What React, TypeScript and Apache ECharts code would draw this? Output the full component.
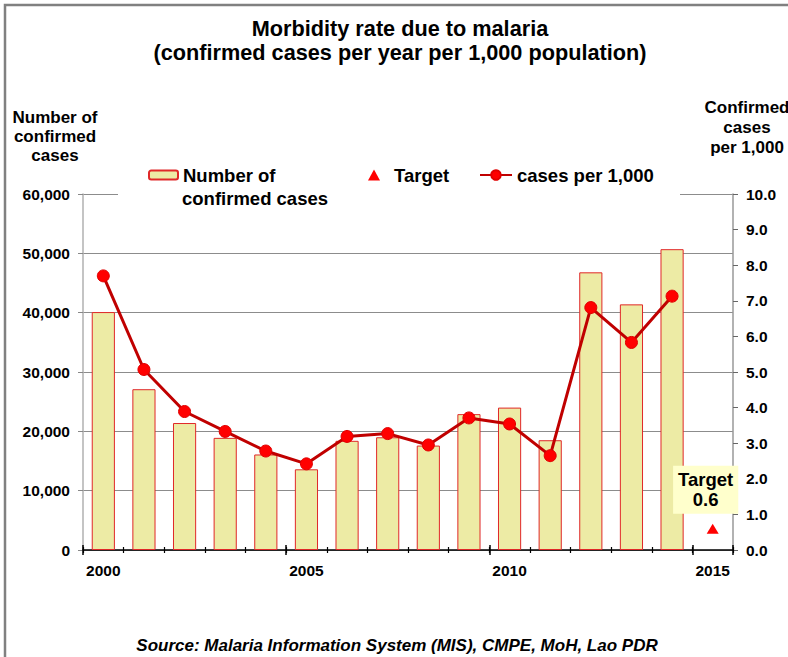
import React, { useEffect, useRef } from "react";
import * as echarts from "echarts";

const years = ["2000","2001","2002","2003","2004","2005","2006","2007","2008","2009","2010","2011","2012","2013","2014","2015"];
const confirmedCases = [40100, 27100, 21400, 18900, 16100, 13600, 18400, 19000, 17600, 22900, 24000, 18500, 46800, 41400, 50700, null];
const casesPer1000 = [7.70, 5.07, 3.89, 3.33, 2.78, 2.42, 3.19, 3.27, 2.95, 3.71, 3.54, 2.65, 6.81, 5.83, 7.13, null];
const target = [null, null, null, null, null, null, null, null, null, null, null, null, null, null, null, 0.6];

const leftTicks = { min: 0, max: 60000, interval: 10000 };
const rightTicks = { min: 0, max: 10, interval: 1 };

const FONT = "'Liberation Sans', Arial, sans-serif";

export default function App() {
  const ref = useRef<HTMLDivElement>(null);
  useEffect(() => {
    if (!ref.current) return;
    const chart = echarts.init(ref.current, null, { renderer: "svg" });
    const tickLabel = { fontFamily: FONT, fontSize: 15.5, fontWeight: "bold", color: "#000" };
    const xBase = {
      type: "category",
      data: years,
      position: "bottom",
      boundaryGap: true,
      splitLine: { show: false },
    };
    chart.setOption({
      animation: false,
      backgroundColor: "#fff",
      grid: { left: 83, right: 55, top: 194, bottom: 107, containLabel: false },
      graphic: [
        { type: "rect", z: 0, shape: { x: 5, y: 5, width: 900, height: 900 }, style: { fill: "none", stroke: "#808080", lineWidth: 2.5 } },
        { type: "rect", z: 5, shape: { x: 118, y: 160, width: 562, height: 48 }, style: { fill: "#fff" } },
        { type: "text", z: 6, x: 400, y: 16, style: { text: "Morbidity rate due to malaria\n(confirmed cases per year per 1,000 population)", fontFamily: FONT, fontSize: 21.7, fontWeight: "bold", lineHeight: 24, align: "center", verticalAlign: "top", fill: "#000" } },
        { type: "text", z: 6, x: 55, y: 108, style: { text: "Number of\nconfirmed\ncases", fontFamily: FONT, fontSize: 17, fontWeight: "bold", lineHeight: 19, align: "center", verticalAlign: "top", fill: "#000" } },
        { type: "text", z: 6, x: 747, y: 97, style: { text: "Confirmed\ncases\nper 1,000", fontFamily: FONT, fontSize: 17, fontWeight: "bold", lineHeight: 20, align: "center", verticalAlign: "top", fill: "#000" } },
        { type: "text", z: 11, x: 182, y: 198, style: { text: "confirmed cases", fontFamily: FONT, fontSize: 18.5, fontWeight: "bold", align: "left", verticalAlign: "middle", fill: "#000" } },
        { type: "text", z: 6, x: 397, y: 645, style: { text: "Source: Malaria Information System (MIS), CMPE, MoH, Lao PDR", fontFamily: FONT, fontSize: 17, fontWeight: "bold", fontStyle: "italic", align: "center", verticalAlign: "middle", fill: "#000" } },
      ],
      legend: [
        { z: 10, left: 148, top: 165, padding: 0, data: ["Number of confirmed cases"], itemWidth: 29, itemHeight: 9, formatter: () => "Number of", textStyle: { fontFamily: FONT, fontSize: 18.5, fontWeight: "bold", color: "#000", lineHeight: 20 }, selectedMode: false },
        { z: 10, left: 368, top: 165, padding: 0, data: ["Target"], itemWidth: 12, itemHeight: 11, textStyle: { fontFamily: FONT, fontSize: 18.5, fontWeight: "bold", color: "#000", lineHeight: 20, padding: [0, 0, 0, 9] }, selectedMode: false },
        { z: 10, left: 479, top: 165, padding: 0, data: ["cases per 1,000"], itemWidth: 32, itemHeight: 12, textStyle: { fontFamily: FONT, fontSize: 18.5, fontWeight: "bold", color: "#000", lineHeight: 20 }, selectedMode: false },
      ],
      xAxis: [
        { ...xBase, axisLine: { show: true, lineStyle: { color: "#000", width: 1.5 } }, axisTick: { show: true, interval: 0, length: 3, inside: false, lineStyle: { color: "#000", width: 1.2 } }, axisLabel: { ...tickLabel, interval: 4, margin: 12 } },
        { ...xBase, axisLine: { show: false }, axisTick: { show: true, interval: 0, length: 3, inside: true, lineStyle: { color: "#000", width: 1.2 } }, axisLabel: { show: false } },
        { ...xBase, axisLine: { show: false }, axisTick: { show: true, interval: 4, length: 5, inside: false, lineStyle: { color: "#000", width: 1.5 } }, axisLabel: { show: false } },
        { ...xBase, axisLine: { show: false }, axisTick: { show: true, interval: 4, length: 5, inside: true, lineStyle: { color: "#000", width: 1.5 } }, axisLabel: { show: false } },
      ],
      yAxis: [
        {
          type: "value", position: "left", ...leftTicks,
          axisLine: { show: true, lineStyle: { color: "#b0b0b0", width: 1.5 } },
          axisTick: { show: true, length: 5, lineStyle: { color: "#888" } },
          splitLine: { show: true, lineStyle: { color: "#8c8c8c", width: 1 } },
          axisLabel: { ...tickLabel, margin: 13, formatter: (v: number) => v.toLocaleString("en-US") },
        },
        {
          type: "value", position: "right", ...rightTicks,
          axisLine: { show: true, lineStyle: { color: "#999", width: 1.5 } },
          axisTick: { show: true, length: 5, lineStyle: { color: "#666" } },
          splitLine: { show: false },
          axisLabel: { ...tickLabel, margin: 13, formatter: (v: number) => v.toFixed(1) },
        },
      ],
      series: [
        {
          name: "Number of confirmed cases", type: "bar", xAxisIndex: 0, yAxisIndex: 0,
          data: confirmedCases, barWidth: "57%",
          itemStyle: { color: "#EDEBA5", borderColor: "#E02828", borderWidth: 1 },
        },
        {
          name: "cases per 1,000", type: "line", xAxisIndex: 0, yAxisIndex: 1,
          data: casesPer1000, symbol: "circle", symbolSize: 12,
          lineStyle: { color: "#C00000", width: 3 },
          itemStyle: { color: "#FF0000", borderColor: "#E00000", borderWidth: 1, opacity: 1 },
          z: 3,
        },
        {
          name: "Target", type: "scatter", xAxisIndex: 0, yAxisIndex: 1,
          data: target, symbol: "triangle", symbolSize: [12, 10],
          itemStyle: { color: "#FF0000", opacity: 1 },
          z: 4,
          label: {
            show: true, position: "top", distance: 10, offset: [-7, 0],
            formatter: (p: any) => `Target\n${Number(p.value).toFixed(1)}`,
            fontFamily: FONT, fontSize: 18.5, fontWeight: "bold", color: "#000", lineHeight: 20,
            backgroundColor: "#FFFFCC", padding: [4, 5, 4, 5], align: "center", opacity: 1,
          },
        },
      ],
    });
    return () => chart.dispose();
  }, []);
  return <div ref={ref} style={{ position: "absolute", left: 0, top: 0, width: 788, height: 657 }} />;
}
